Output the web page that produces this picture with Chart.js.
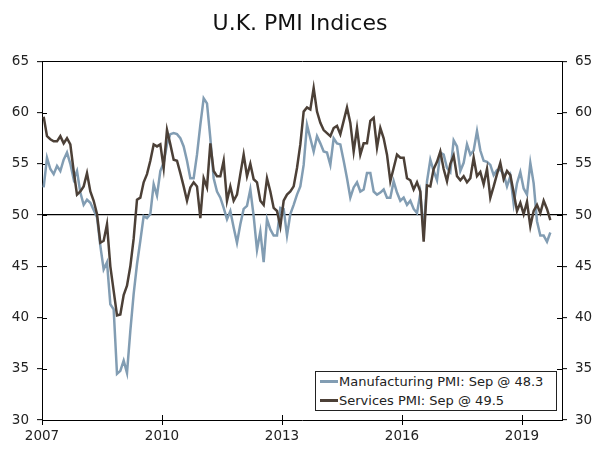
<!DOCTYPE html>
<html>
<head>
<meta charset="utf-8">
<title>U.K. PMI Indices</title>
<script src="https://cdn.jsdelivr.net/npm/chart.js@4.4.1/dist/chart.umd.min.js"></script>
<style>
  body { margin: 0; background: #fff; }
  #wrap { position: relative; width: 600px; height: 453px; }
  #legend {
    position: absolute; left: 315px; top: 371px; width: 240px; height: 38px;
    border: 1px solid #222; background: #fff;
    font: 13px "DejaVu Sans", Verdana, sans-serif; color: #222;
  }
  .row { display: flex; align-items: center; height: 19px; padding-left: 4px; white-space: nowrap; }
  .sw { width: 18px; height: 3px; margin-right: 1px; }
</style>
</head>
<body>
<div id="wrap">
  <canvas id="pmiChart" width="600" height="453"></canvas>
  <div id="legend">
    <div class="row"><span class="sw" style="background:#829db3"></span>Manufacturing PMI: Sep @ 48.3</div>
    <div class="row"><span class="sw" style="background:#4c4037"></span>Services PMI: Sep @ 49.5</div>
  </div>
</div>
<script>
// monthly readings, Jan 2007 .. Sep 2019
const startYear = 2007;

const manufacturing = [
  52.7, 55.6, 54.5, 54.0, 54.8, 54.3, 55.4, 56.1, 55.0, 53.5, 54.3, 52.2, // 2007
  51.0, 51.5, 51.2, 50.5, 49.8, 47.0, 44.7, 45.4, 41.3, 40.8, 34.5, 34.8, // 2008
  35.8, 34.6, 38.7, 42.3, 45.2, 47.5, 49.9, 49.7, 50.1, 53.0, 51.9, 54.3, // 2009
  55.1, 56.9, 57.9, 58.0, 57.9, 57.5, 56.7, 55.3, 53.6, 53.6, 55.9, 58.8, // 2010
  61.4, 60.9, 57.5, 53.6, 52.3, 51.7, 50.7, 49.6, 50.4, 48.8, 47.3, 49.1, // 2011
  50.6, 50.9, 52.5, 49.9, 46.6, 48.4, 45.4, 49.6, 48.6, 48.0, 48.0, 50.7, // 2012
  50.6, 48.0, 50.1, 51.0, 52.0, 52.8, 54.9, 58.8, 57.5, 56.2, 57.7, 57.0, // 2013
  56.2, 56.1, 54.9, 57.5, 57.0, 56.9, 55.3, 53.6, 51.7, 52.7, 53.2, 52.3, // 2014
  52.5, 54.1, 54.1, 52.3, 52.0, 52.2, 52.5, 51.7, 51.7, 53.3, 52.2, 51.4, // 2015
  51.7, 51.0, 51.4, 50.6, 50.2, 52.1, 48.3, 53.3, 55.4, 54.3, 53.4, 56.1, // 2016
  55.9, 54.6, 54.2, 57.3, 56.7, 54.3, 55.1, 56.9, 55.9, 56.3, 58.2, 56.3, // 2017
  55.3, 55.2, 54.9, 53.9, 54.4, 54.4, 54.0, 52.8, 53.8, 51.1, 53.1, 54.2, // 2018
  52.6, 52.0, 55.1, 53.1, 49.4, 48.0, 48.0, 47.4, 48.3                    // 2019
];

const services = [
  59.6, 57.7, 57.4, 57.2, 57.2, 57.7, 57.0, 57.5, 56.9, 54.3, 52.0, 52.3, // 2007
  52.8, 54.1, 52.3, 51.4, 50.1, 47.3, 47.5, 49.1, 45.0, 42.6, 40.2, 40.3, // 2008
  42.2, 43.1, 45.0, 47.7, 51.5, 51.7, 53.2, 54.0, 55.3, 56.9, 56.7, 56.9, // 2009
  54.6, 58.3, 56.9, 55.4, 55.3, 54.1, 52.8, 51.4, 52.7, 53.2, 52.8, 49.7, // 2010
  53.6, 52.7, 57.0, 54.3, 53.8, 53.8, 55.3, 51.4, 52.8, 51.4, 52.0, 54.0, // 2011
  55.9, 53.8, 55.0, 53.5, 53.2, 51.4, 51.0, 53.6, 52.3, 50.7, 50.4, 48.9, // 2012
  51.4, 52.0, 52.3, 52.8, 54.6, 56.9, 60.1, 60.5, 60.3, 62.4, 60.1, 59.0, // 2013
  58.3, 58.0, 57.7, 58.5, 58.7, 57.9, 59.2, 60.5, 59.0, 56.2, 58.5, 55.9, // 2014
  57.0, 57.0, 59.2, 59.5, 56.6, 58.5, 57.5, 55.9, 53.3, 54.6, 55.9, 55.6, // 2015
  55.6, 53.6, 53.4, 52.5, 53.2, 52.3, 47.4, 52.9, 52.8, 54.5, 55.2, 56.2, // 2016
  54.5, 53.3, 55.0, 55.8, 53.8, 53.4, 53.8, 53.2, 53.6, 55.6, 53.8, 54.2, // 2017
  53.0, 54.5, 51.7, 52.8, 54.0, 55.1, 53.5, 54.3, 53.9, 52.2, 50.4, 51.2, // 2018
  50.1, 51.3, 48.9, 50.4, 51.0, 50.2, 51.4, 50.6, 49.5                    // 2019
];

const yearTicks = [2007, 2010, 2013, 2016, 2019];
const valueTicks = [30, 35, 40, 45, 50, 55, 60, 65];

// month i sits in the middle of its month on a year axis
function toPoints(values) {
  return values.map((v, i) => ({ x: startYear + (i + 0.5) / 12, y: v }));
}

const fontFamily = '"DejaVu Sans", Verdana, sans-serif';
Chart.defaults.font.family = fontFamily;
Chart.defaults.color = '#222';

// short tick marks on the inside of the frame, so they cross the axis lines
const innerTicks = {
  id: 'innerTicks',
  beforeDatasetsDraw(chart) {
    const ctx = chart.ctx;
    const a = chart.chartArea;
    const {x, y, y2} = chart.scales;
    ctx.save();
    ctx.strokeStyle = '#000';
    ctx.lineWidth = 1;
    ctx.beginPath();
    x.ticks.forEach(t => {
      const px = Math.round(x.getPixelForValue(t.value)) + 0.5;
      ctx.moveTo(px, a.bottom); ctx.lineTo(px, a.bottom - 5);
    });
    y.ticks.forEach(t => {
      const py = Math.round(y.getPixelForValue(t.value)) + 0.5;
      ctx.moveTo(a.left, py); ctx.lineTo(a.left + 5, py);
    });
    y2.ticks.forEach(t => {
      const py = Math.round(y2.getPixelForValue(t.value)) + 0.5;
      ctx.moveTo(a.right, py); ctx.lineTo(a.right - 5, py);
    });
    ctx.stroke();
    ctx.restore();
  }
};

const valueAxis = (pos, width) => ({
  type: 'linear',
  position: pos,
  min: 30,
  max: 65,
  afterBuildTicks: s => { s.ticks = valueTicks.map(v => ({value: v})); },
  afterFit: s => { s.width = width; },
  ticks: { font: {size: 13.5}, color: '#222', padding: 8 },
  grid: {
    drawOnChartArea: pos === 'left',
    color: c => (c.tick && c.tick.value === 50 ? '#000' : 'rgba(0,0,0,0)'),
    lineWidth: 1.3,
    tickColor: '#000',
    tickWidth: 1,
    tickLength: 5
  },
  border: { color: '#000', width: 1 }
});

new Chart(document.getElementById('pmiChart'), {
  type: 'line',
  data: {
    datasets: [
      {
        label: 'Services PMI: Sep @ 49.5',
        data: toPoints(services),
        borderColor: '#4c4037',
        borderWidth: 2.5,
        pointRadius: 0,
        tension: 0,
        yAxisID: 'y'
      },
      {
        label: 'Manufacturing PMI: Sep @ 48.3',
        data: toPoints(manufacturing),
        borderColor: '#829db3',
        borderWidth: 2.5,
        pointRadius: 0,
        tension: 0,
        yAxisID: 'y'
      }
    ]
  },
  options: {
    responsive: false,
    animation: false,
    layout: { padding: 0 },
    plugins: {
      legend: { display: false },
      tooltip: { enabled: false },
      title: {
        display: true,
        text: 'U.K. PMI Indices',
        color: '#111',
        font: { size: 22, weight: 'normal', family: fontFamily },
        padding: { top: 11, bottom: 24 }
      }
    },
    scales: {
      x: {
        type: 'linear',
        position: 'bottom',
        min: 2007,
        max: 2020,
        afterBuildTicks: s => { s.ticks = yearTicks.map(v => ({value: v})); },
        afterFit: s => { s.height = 33; },
        ticks: { font: {size: 13.5}, color: '#222', padding: 3, maxRotation: 0, callback: v => String(v) },
        grid: { drawOnChartArea: false, color: '#000', tickLength: 5 },
        border: { color: '#000', width: 1 }
      },
      xTop: {
        type: 'linear',
        position: 'top',
        min: 2007,
        max: 2020,
        afterFit: s => { s.height = 0; },
        ticks: { display: false },
        grid: { display: false },
        border: { color: '#000', width: 1 }
      },
      y: valueAxis('left', 42),
      y2: valueAxis('right', 38)
    }
  },
  plugins: [innerTicks]
});
</script>
</body>
</html>
